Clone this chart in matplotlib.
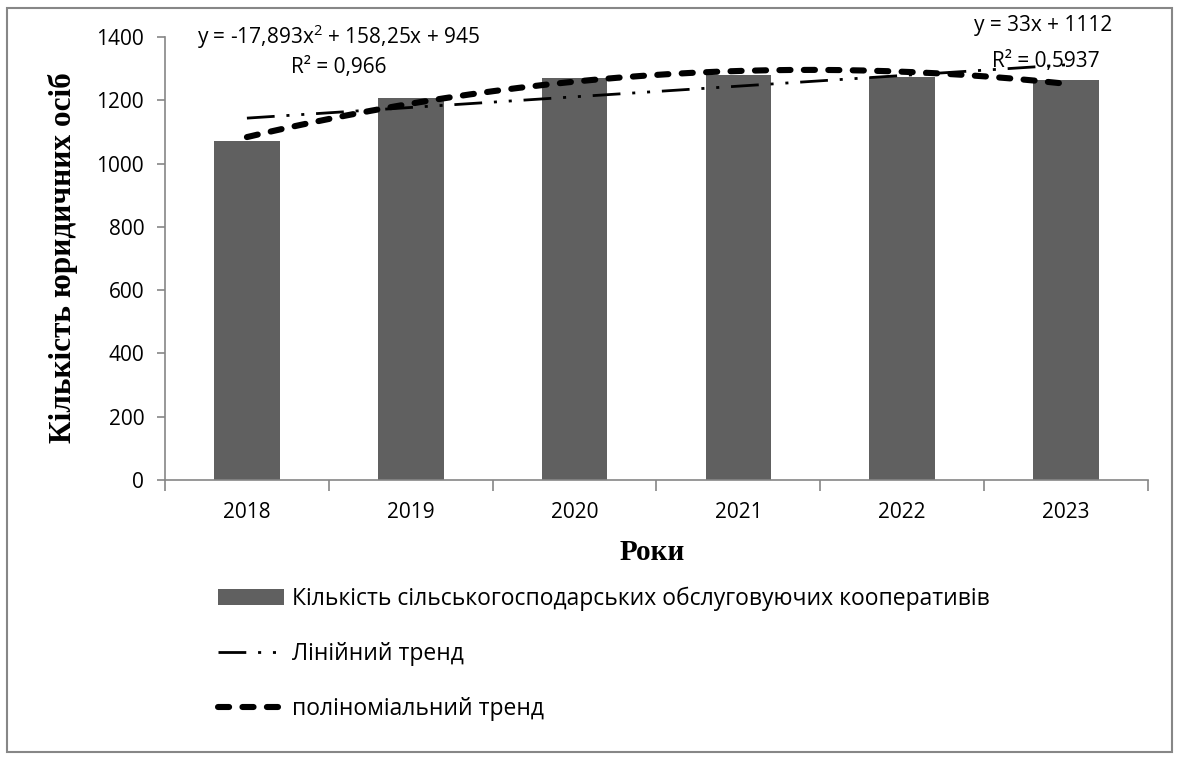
import numpy as np
import matplotlib
matplotlib.use("Agg")
import matplotlib.pyplot as plt
from matplotlib.patches import Rectangle, Patch
from matplotlib.lines import Line2D

years = ["2018", "2019", "2020", "2021", "2022", "2023"]
counts = [1071, 1207, 1270, 1280, 1275, 1264]
y_ticks = [0, 200, 400, 600, 800, 1000, 1200, 1400]

bar_label = "Кількість сільськогосподарських обслуговуючих кооперативів"
lin_label = "Лінійний тренд"
poly_label = "поліноміальний тренд"
ylabel = "Кількість юридичних осіб"
xlabel = "Роки"
poly_eq = "y = -17,893x$^2$ + 158,25x + 945"
poly_r2 = "R² = 0,966"
lin_eq = "y = 33x + 1112"
lin_r2 = "R² = 0,5937"

FONT = 'Open Sans'
plt.rcParams['font.family'] = [FONT, 'DejaVu Sans']
plt.rcParams['lines.scale_dashes'] = False
plt.rcParams['mathtext.fontset'] = 'custom'
plt.rcParams['mathtext.rm'] = FONT

W, H = 1179, 760
fig = plt.figure(figsize=(W / 100, H / 100), dpi=100)
fig.patches.append(Rectangle((7 / W, 8 / H), 1165 / W, 744 / H, transform=fig.transFigure,
                             fill=False, edgecolor='#878787', linewidth=1.5))

left, right, top, bottom = 165, 1148, 37, 480
ax = fig.add_axes([left / W, 1 - bottom / H, (right - left) / W, (bottom - top) / H])

idx = np.arange(len(years))
ax.bar(idx, counts, width=0.4, color='#606060', zorder=2)

xs = idx + 1
lin_c = np.polyfit(xs, counts, 1)
poly_c = np.polyfit(xs, counts, 2)
xd = np.linspace(1, len(years), 200)
lin_style = (0, (20, 8.5, 2.2, 8.5, 2.2, 8.5))
poly_style = (0, (8, 9.6))
ax.plot(xd - 1, np.polyval(lin_c, xd), color='black', linewidth=2.0,
        linestyle=lin_style, dash_capstyle='butt', zorder=3)
ax.plot(xd - 1, np.polyval(poly_c, xd), color='black', linewidth=4.4,
        linestyle=poly_style, dash_capstyle='round', zorder=4)

TICK_FS = 15
ax.set_xlim(-0.5, len(years) - 0.5)
ax.set_ylim(0, 1400)
ax.set_yticks(y_ticks)
ax.set_yticklabels([str(v) for v in y_ticks], fontsize=TICK_FS)
ax.set_xticks(idx)
ax.set_xticklabels(years, fontsize=TICK_FS)
ax.set_xticks(np.arange(-0.5, len(years), 1.0), minor=True)
ax.tick_params(axis='x', which='major', length=0, pad=16)
ax.tick_params(axis='x', which='minor', length=8, width=1.2, color='#868686', direction='out')
ax.tick_params(axis='y', length=6, width=1.2, color='#868686', direction='out', pad=9)
for s in ['top', 'right']:
    ax.spines[s].set_visible(False)
for s in ['left', 'bottom']:
    ax.spines[s].set_color('#868686')
    ax.spines[s].set_linewidth(1.2)

fig.text(63 / W, 1 - 258 / H, ylabel, rotation=90, ha='center', va='center',
         fontsize=22.5, fontweight='bold', family='Liberation Serif')
fig.text(652 / W, 1 - 553 / H, xlabel, ha='center', va='center',
         fontsize=21, fontweight='bold', family='Liberation Serif')

EQ_FS = 15
fig.text(339 / W, 1 - 37 / H, poly_eq, ha='center', va='center', fontsize=EQ_FS, zorder=6)
fig.text(339 / W, 1 - 68 / H, poly_r2, ha='center', va='center', fontsize=EQ_FS, zorder=6)
fig.text(1043 / W, 1 - 25 / H, lin_eq, ha='center', va='center', fontsize=EQ_FS, zorder=6)
fig.text(1046 / W, 1 - 62 / H, lin_r2, ha='center', va='center', fontsize=EQ_FS, zorder=6)

handles = [Patch(facecolor='#606060', edgecolor='none'),
           Line2D([], [], color='black', linewidth=2.0, linestyle=lin_style),
           Line2D([], [], color='black', linewidth=4.4, linestyle=poly_style, dash_capstyle='round')]
fig.legend(handles, [bar_label, lin_label, poly_label], loc='upper left',
           bbox_to_anchor=(218 / W, 1 - 587 / H), frameon=False, fontsize=16.5,
           handlelength=2.88, handletextpad=0.33, labelspacing=1.35, borderpad=0, borderaxespad=0)

fig.savefig("out.png", dpi=100)
